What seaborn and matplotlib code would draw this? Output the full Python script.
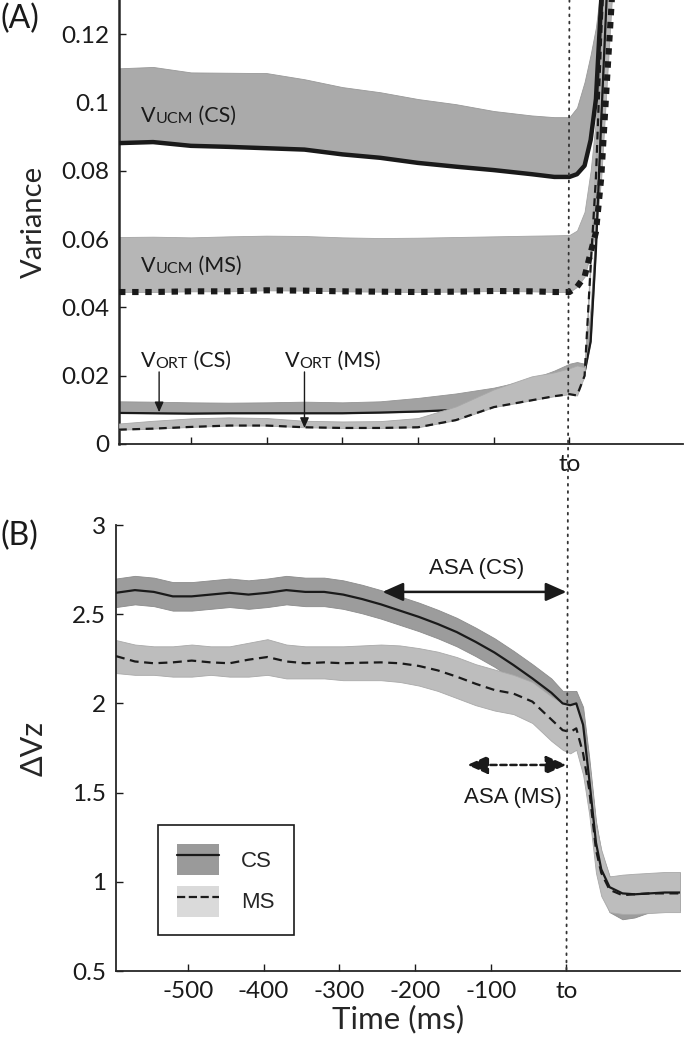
import pandas as pd
import matplotlib.pyplot as plt
import seaborn as sns
import numpy as np
from matplotlib.patches import Patch, ConnectionPatch
from matplotlib.lines import Line2D

# ---- panel A: variance components (time in ms, relative to t0) ----
t_top = [-595, -550, -500, -450, -400, -350, -300, -250, -200, -150, -100, -50, -20, 0, 10, 20, 28, 35, 42, 50, 60]

ucm_cs_mean = [.0881, .0884, .0873, .0870, .0866, .0862, .0848, .0838, .0823, .0812, .0802, .0790, .0782, .0782,
               .0790, .0815, .0890, .1010, .1300, .1700, .2100]
ucm_cs_upper = [.1100, .1104, .1088, .1087, .1086, .1068, .1045, .1030, .1010, .0995, .0975, .0962, .0957, .0957,
                .0985, .1060, .1140, .1220, .1350, .1800, .2200]
ucm_ms_mean = [.0445, .0445, .0447, .0447, .0450, .0449, .0447, .0446, .0445, .0446, .0448, .0447, .0445, .0445,
               .0460, .0490, .0560, .0620, .0780, .1080, .1450]
ucm_ms_upper = [.0606, .0607, .0605, .0608, .0610, .0609, .0605, .0603, .0604, .0606, .0608, .0610, .0611, .0612,
                .0625, .0680, .0800, .0950, .1250, .1600, .2000]
ort_cs_mean = [.0091, .0090, .0089, .0090, .0090, .0090, .0090, .0092, .0095, .0100, .0115, .0140, .0165, .0185,
               .0195, .0210, .0300, .0570, .0950, .1350, .1800]
ort_cs_upper = [.0125, .0124, .0122, .0121, .0122, .0124, .0122, .0125, .0135, .0148, .0165, .0190, .0215, .0235,
                .0240, .0235, .0400, .0650, .1000, .1400, .1900]
ort_ms_mean = [.0042, .0045, .0050, .0054, .0054, .0049, .0047, .0047, .0049, .0070, .0108, .0128, .0140, .0146,
               .0142, .0200, .0520, .0780, .1200, .1600, .2000]
ort_ms_upper = [.0060, .0068, .0075, .0078, .0076, .0068, .0066, .0067, .0076, .0110, .0160, .0198, .0210, .0222,
                .0230, .0225, .0560, .0850, .1300, .1700, .2100]

# ---- panel B: delta Vz ----
t_bot = [-595, -570, -545, -520, -495, -470, -445, -420, -395, -370, -345, -320, -295, -270, -245, -220, -195,
         -170, -145, -120, -95, -70, -45, -20, -5, 5, 13, 22, 30, 39, 46, 57, 74, 90, 110, 130, 150]
cs_mean = [2.62, 2.635, 2.625, 2.60, 2.60, 2.61, 2.62, 2.61, 2.62, 2.635, 2.625, 2.625, 2.61, 2.585, 2.555, 2.52,
           2.485, 2.445, 2.40, 2.345, 2.285, 2.215, 2.14, 2.06, 2.00, 1.99, 2.00, 1.88, 1.58, 1.22, 1.07, 0.97,
           0.935, 0.93, 0.935, 0.94, 0.94]
cs_lower = [2.54, 2.555, 2.545, 2.52, 2.52, 2.53, 2.54, 2.53, 2.54, 2.555, 2.545, 2.545, 2.53, 2.505, 2.475, 2.44,
            2.405, 2.365, 2.32, 2.265, 2.205, 2.135, 2.06, 1.98, 1.92, 1.91, 1.92, 1.78, 1.46, 1.10, 0.95, 0.83,
            0.79, 0.80, 0.83, 0.84, 0.84]
cs_upper = [2.70, 2.715, 2.705, 2.68, 2.68, 2.69, 2.70, 2.69, 2.70, 2.715, 2.705, 2.705, 2.69, 2.665, 2.635, 2.60,
            2.565, 2.525, 2.48, 2.425, 2.365, 2.295, 2.22, 2.14, 2.07, 2.07, 2.07, 1.98, 1.70, 1.34, 1.17, 1.03,
            1.02, 1.03, 1.04, 1.045, 1.05]
ms_mean = [2.265, 2.235, 2.225, 2.23, 2.24, 2.23, 2.225, 2.245, 2.26, 2.235, 2.225, 2.23, 2.225, 2.228, 2.23,
           2.225, 2.21, 2.185, 2.15, 2.11, 2.075, 2.055, 2.01, 1.91, 1.85, 1.84, 1.86, 1.72, 1.52, 1.18, 1.05,
           0.955, 0.925, 0.93, 0.935, 0.935, 0.935]
ms_lower = [2.17, 2.16, 2.16, 2.15, 2.15, 2.16, 2.15, 2.15, 2.16, 2.14, 2.14, 2.14, 2.13, 2.13, 2.13, 2.12, 2.10,
            2.07, 2.03, 1.99, 1.96, 1.94, 1.89, 1.79, 1.74, 1.72, 1.74, 1.60, 1.38, 1.05, 0.92, 0.83, 0.82,
            0.82, 0.825, 0.83, 0.83]
ms_upper = [2.355, 2.33, 2.32, 2.32, 2.33, 2.32, 2.32, 2.34, 2.36, 2.33, 2.32, 2.32, 2.32, 2.325, 2.33, 2.325,
            2.31, 2.29, 2.26, 2.22, 2.19, 2.16, 2.12, 2.04, 2.00, 1.99, 2.00, 1.86, 1.66, 1.32, 1.18, 1.03,
            1.04, 1.045, 1.05, 1.055, 1.055]

onset = 0
asa_cs_start, asa_ms_start = -243, -131
x_ticks_bot = [-500, -400, -300, -200, -100, 0]
x_labels_bot = ['-500', '-400', '-300', '-200', '-100', 'to']

sns.set_style('ticks')
plt.rcParams['font.family'] = ['Lato', 'DejaVu Sans']

fig = plt.figure(figsize=(6.84, 10.5), dpi=100)
ax1 = fig.add_axes([119 / 684, 1 - 444 / 1050, 564 / 684, 444 / 1050])
ax2 = fig.add_axes([116 / 684, 1 - 971 / 1050, 564 / 684, 446 / 1050])

top = pd.DataFrame({'t': t_top, 'ucm_cs': ucm_cs_mean, 'ucm_cs_hi': ucm_cs_upper,
                    'ucm_ms': ucm_ms_mean, 'ucm_ms_hi': ucm_ms_upper,
                    'ort_cs': ort_cs_mean, 'ort_cs_hi': ort_cs_upper,
                    'ort_ms': ort_ms_mean, 'ort_ms_hi': ort_ms_upper})
bot = pd.DataFrame({'t': t_bot, 'cs': cs_mean, 'cs_lo': cs_lower, 'cs_hi': cs_upper,
                    'ms': ms_mean, 'ms_lo': ms_lower, 'ms_hi': ms_upper})

# panel A bands (mean -> mean + SE)
ax1.fill_between(top.t, top.ucm_cs, top.ucm_cs_hi, color='#aaaaaa', lw=0.6, edgecolor='#999999', zorder=1)
ax1.fill_between(top.t, top.ucm_ms, top.ucm_ms_hi, color='#b6b6b6', lw=0.6, edgecolor='#a5a5a5', zorder=1)
ax1.fill_between(top.t, top.ort_cs, top.ort_cs_hi, color='#a2a2a2', lw=0.6, edgecolor='#959595', zorder=1)
sns.lineplot(data=top, x='t', y='ort_cs', ax=ax1, color='#1a1a1a', lw=1.6, errorbar=None, zorder=2)
ax1.fill_between(top.t, top.ort_ms, top.ort_ms_hi, color='#bcbcbc', lw=0.6, edgecolor='#a8a8a8', zorder=3)
sns.lineplot(data=top, x='t', y='ucm_cs', ax=ax1, color='#1a1a1a', lw=3.2, errorbar=None, zorder=4)
sns.lineplot(data=top, x='t', y='ucm_ms', ax=ax1, color='#1a1a1a', lw=4.4, errorbar=None, zorder=4,
             linestyle=(0, (1.05, 1.1)))
sns.lineplot(data=top, x='t', y='ort_ms', ax=ax1, color='#1a1a1a', lw=1.6, errorbar=None, zorder=4,
             linestyle=(0, (3.5, 2.5)))

# panel B bands
ax2.fill_between(bot.t, bot.cs_lo, bot.cs_hi, color='#9c9c9c', lw=0.6, edgecolor='#8c8c8c', zorder=1)
ax2.fill_between(bot.t, bot.ms_lo, bot.ms_hi, color='#bdbdbd', lw=0.6, edgecolor='#a9a9a9', zorder=2)
sns.lineplot(data=bot, x='t', y='cs', ax=ax2, color='#1a1a1a', lw=1.6, errorbar=None, zorder=3)
sns.lineplot(data=bot, x='t', y='ms', ax=ax2, color='#1a1a1a', lw=1.6, errorbar=None, zorder=3,
             linestyle=(0, (4, 2.5)))

for ax in (ax1, ax2):
    ax.set_xlim(-595, 150)
    sns.despine(ax=ax)
    ax.tick_params(direction='in', length=5, width=1, labelsize=17.5, pad=7, colors='#1a1a1a')
    ax.set_xlabel('')
    ax.set_ylabel('')

ax1.set_ylim(0, 0.13)
ax1.set_yticks([0, 0.02, 0.04, 0.06, 0.08, 0.1, 0.12])
ax1.set_yticklabels(['0', '0.02', '0.04', '0.06', '0.08', '0.1', '0.12'])
ax1.set_xticks(x_ticks_bot)
ax1.set_xticklabels(['', '', '', '', '', 'to'])
ax1.spines['left'].set_linewidth(1.8)
ax1.spines['bottom'].set_linewidth(1.3)
ax1.set_ylabel('Variance', fontsize=21)
ax1.yaxis.set_label_coords(-0.128, 0.5)

ax2.set_ylim(0.5, 3)
ax2.set_yticks([0.5, 1, 1.5, 2, 2.5, 3])
ax2.set_yticklabels(['0.5', '1', '1.5', '2', '2.5', '3'])
ax2.set_xticks(x_ticks_bot)
ax2.set_xticklabels(x_labels_bot)
for s in ('left', 'bottom'):
    ax2.spines[s].set_linewidth(1.3)
ax2.set_ylabel('ΔVz', fontsize=22)
ax2.yaxis.set_label_coords(-0.122, 0.5)
ax2.set_xlabel('Time (ms)', fontsize=22.5)
ax2.xaxis.set_label_coords(0.5, -0.075)

# dotted onset line running through both panels
con = ConnectionPatch(xyA=(onset, 0.13), coordsA=ax1.transData, xyB=(onset, 0.5), coordsB=ax2.transData,
                      color='#333333', lw=1.3, linestyle=(0, (1, 3)), zorder=10)
fig.add_artist(con)


def v_label(ax, x, y, sub, tail):
    t1 = ax.text(x, y, 'V', fontsize=15.5, va='baseline', ha='left', color='#1a1a1a', zorder=6)
    t2 = ax.annotate(sub, xy=(1, 0), xycoords=t1, fontsize=11.5, va='bottom', ha='left', color='#1a1a1a', zorder=6)
    ax.annotate(tail, xy=(1, 0), xycoords=t2, fontsize=15.5, va='bottom', ha='left', color='#1a1a1a', zorder=6)


v_label(ax1, -566, 0.0943, 'UCM', ' (CS)')
v_label(ax1, -566, 0.0504, 'UCM', ' (MS)')
v_label(ax1, -566, 0.0225, 'ORT', ' (CS)')
v_label(ax1, -376, 0.0225, 'ORT', ' (MS)')
ax1.annotate('', xy=(-542, 0.0093), xytext=(-542, 0.0211),
             arrowprops=dict(arrowstyle='-|>,head_length=0.5,head_width=0.22', color='#1a1a1a', lw=1,
                             mutation_scale=12, shrinkA=0, shrinkB=0), zorder=6)
ax1.annotate('', xy=(-350, 0.0047), xytext=(-350, 0.0211),
             arrowprops=dict(arrowstyle='-|>,head_length=0.5,head_width=0.22', color='#1a1a1a', lw=1,
                             mutation_scale=12, shrinkA=0, shrinkB=0), zorder=6)

# ASA arrows
ax2.annotate('', xy=(onset, 2.625), xytext=(asa_cs_start, 2.625),
             arrowprops=dict(arrowstyle='<|-|>,head_length=0.9,head_width=0.4', color='#1a1a1a', lw=1.8,
                             mutation_scale=14, shrinkA=0, shrinkB=0), zorder=6)
ax2.text(-118, 2.755, 'ASA (CS)', fontsize=16, family='Liberation Sans', ha='center', va='center',
         color='#1a1a1a')
ax2.annotate('', xy=(onset, 1.655), xytext=(asa_ms_start, 1.655),
             arrowprops=dict(arrowstyle='<|-|>,head_length=0.9,head_width=0.4', color='#1a1a1a', lw=1.8,
                             linestyle=(0, (2.5, 1.5)), mutation_scale=14, shrinkA=0, shrinkB=0), zorder=6)
ax2.text(-71, 1.475, 'ASA (MS)', fontsize=16, family='Liberation Sans', ha='center', va='center',
         color='#1a1a1a')

handles = [(Patch(facecolor='#9a9a9a', edgecolor='none'), Line2D([], [], color='#1a1a1a', lw=1.6)),
           (Patch(facecolor='#dadada', edgecolor='none'), Line2D([], [], color='#1a1a1a', lw=1.6, ls='--'))]
leg = ax2.legend(handles, ['CS', 'MS'], loc='upper left', bbox_to_anchor=(0.0745, 0.327), borderaxespad=0,
                 fancybox=False, edgecolor='#1a1a1a', framealpha=1, prop={'family': 'Liberation Sans', 'size': 16},
                 handlelength=1.9, handleheight=1.75, labelspacing=0.5, handletextpad=1.0, borderpad=0.85)
leg.get_frame().set_linewidth(1.2)

fig.text(0.0, 1 - 19 / 1050, '(A)', fontsize=23, va='center', ha='left', color='#1a1a1a')
fig.text(0.0, 1 - 536 / 1050, '(B)', fontsize=23, va='center', ha='left', color='#1a1a1a')

fig.savefig('out.png', dpi=100)
